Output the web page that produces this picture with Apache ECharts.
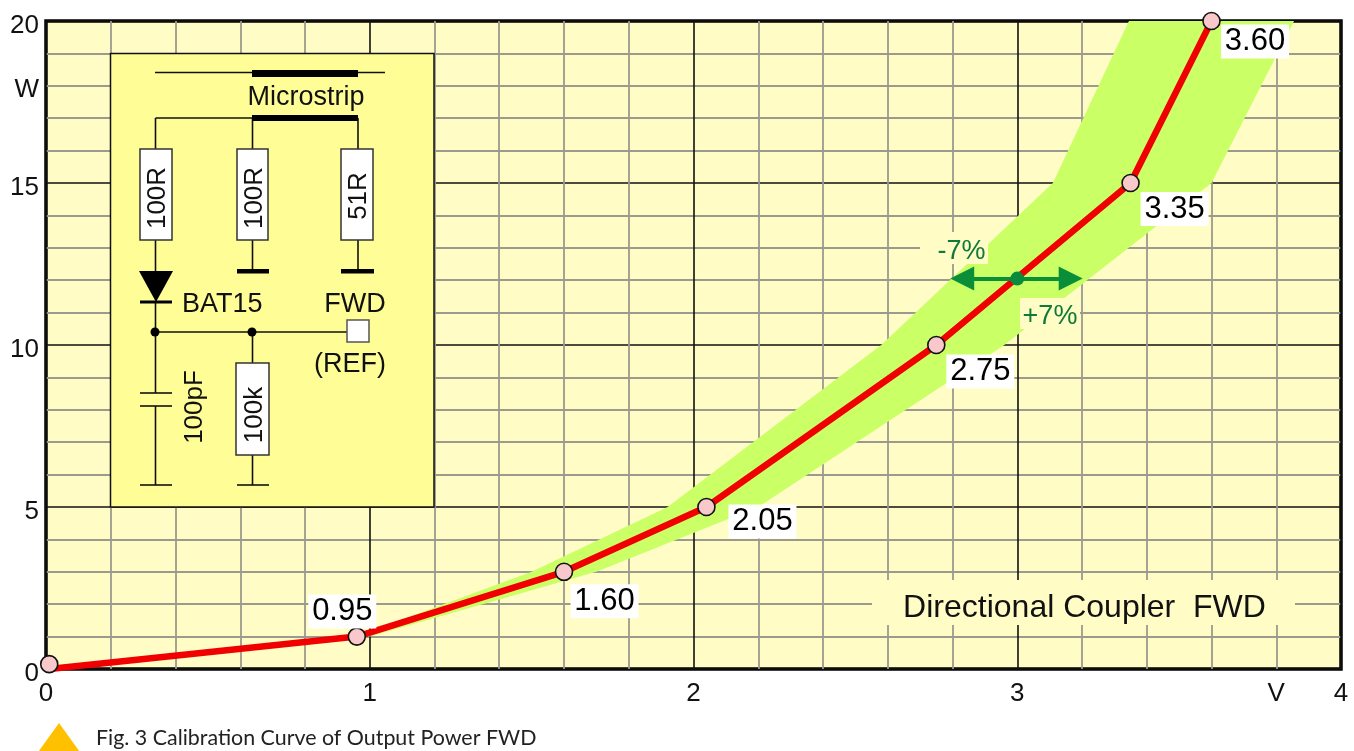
<!DOCTYPE html>
<html>
<head>
<meta charset="utf-8">
<style>html,body{margin:0;padding:0;background:#fff}#c{width:1354px;height:751px}</style>
<script src="https://cdn.jsdelivr.net/npm/echarts@6/dist/echarts.min.js"></script>
</head>
<body>
<div id="c"></div>
<script>
// ---- data ----
const curveVolts = [0.01, 0.96, 1.60, 2.04, 2.75, 3.35, 3.60];
const curveWatts = [0, 1, 3, 5, 10, 15, 20];
const curveLabels = ['', '0.95', '1.60', '2.05', '2.75', '3.35', '3.60'];
const originMarker = [0.01, 0.15];
const bandVolts = [0.97, 1.50, 1.92, 2.58, 3.11, 3.345, 3.855, 3.60, 2.96, 2.20, 1.70, 1.00];
const bandWatts = [1.05, 3, 5, 10, 15, 20, 20, 15, 10, 5, 3, 1];
const toleranceVolts = [2.83, 3, 3.165];
const toleranceWatts = 12.05;
const xTickValues = [0, 1, 2, 3, 3.8, 4];
const xTickLabels = ['0', '1', '2', '3', 'V', '4'];
const yTickValues = [0, 5, 10, 15, 18, 20];
const yTickLabels = ['0', '5', '10', '15', 'W', '20'];

// ---- styling ----
const SANS = '"Liberation Sans", Arial, sans-serif';
const labelOffsets = [[0,0],[-14.5,-25],[40.5,29.5],[56,14.5],[44,26.5],[44,26],[43.5,20.5]];
const Z = 50;
const ink = '#111';
function seg(x1,y1,x2,y2,w){return {type:'line',z:Z+1,silent:true,shape:{x1,y1,x2,y2},style:{stroke:ink,lineWidth:w||1.6}};}
function box(x,y,w,h,fill,stroke,lw,z){return {type:'rect',z:z||Z+2,silent:true,shape:{x,y,width:w,height:h},style:{fill,stroke:stroke||null,lineWidth:lw||0}};}
function txt(t,x,y,opt){opt=opt||{};return {type:'text',z:opt.z||Z+3,silent:true,x,y,rotation:opt.rot||0,
  style:{text:t,fill:opt.fill||'#111',font:(opt.size||27)+'px '+SANS,align:opt.align||'center',verticalAlign:'middle',
         }};}
const PATCH = '#FFFCC6';
const markerStyle = {color:'#F9C8CB',borderColor:'#111',borderWidth:1.6,opacity:1};
const graphics = [
  // patches in the grid
  box(872,580,423,45,PATCH,null,0,Z),
  txt('Directional Coupler  FWD',1084.5,608,{size:32}),
  box(920,232,68,32,PATCH,null,0,Z),
  txt('-7%',961.5,252,{size:27,fill:'#0E7A3A'}),
  box(1020,298,60,31,PATCH,null,0,Z),
  txt('+7%',1050,317,{size:27,fill:'#0E7A3A'}),
  // inset
  box(110.5,53.5,323.5,453.5,'#FFFD96',ink,1.5,Z),
  seg(155,72.5,385,72.5), box(252,70,106,7,'#000'),
  txt('Microstrip',306,98),
  seg(155.5,118,252,118), box(252,115,106,6,'#000'),
  seg(155.5,118,155.5,149), seg(252.5,118,252.5,149), seg(358,118,358,149),
  box(140,149,32,91,'#fff','#333',1.5), box(237,149,31,91,'#fff','#333',1.5), box(341,149,32,91,'#fff','#333',1.5),
  txt('100R',158,198,{rot:Math.PI/2,size:26}), txt('100R',254.5,198,{rot:Math.PI/2,size:26}), txt('51R',359,196,{rot:Math.PI/2,size:26}),
  seg(155.5,240,155.5,272), seg(252.5,240,252.5,270), seg(358,240,358,270),
  box(237,269,32,4.5,'#000'), box(341,269,33,4.5,'#000'),
  {type:'polygon',z:Z+2,silent:true,shape:{points:[[139,271],[173,271],[156,302]]},style:{fill:'#000'}},
  box(140,300.5,32,3,'#000'),
  txt('BAT15',182,305,{align:'left'}), txt('FWD',355,305), txt('(REF)',350,365),
  seg(155.5,302,155.5,393), seg(155,332,347,332),
  {type:'circle',z:Z+2,silent:true,shape:{cx:155,cy:332,r:4.5},style:{fill:'#000'}},
  {type:'circle',z:Z+2,silent:true,shape:{cx:252,cy:332,r:4.5},style:{fill:'#000'}},
  box(347,320,22,22,'#fff','#555',1.5),
  seg(140,393,172,393), seg(140,406,172,406), seg(155.5,406,155.5,485), seg(140,485,172,485),
  txt('100pF',195,407,{rot:Math.PI/2,size:26}),
  seg(252.5,332,252.5,363), box(236,363,33,92,'#fff','#333',1.5),
  txt('100k',255,415,{rot:Math.PI/2,size:26}),
  seg(252.5,455,252.5,485), seg(237,485,269,485),
  // caption
  {type:'polygon',z:Z,silent:true,shape:{points:[[59,723],[36,755],[82,755]]},style:{fill:'#FFC000'}},
  {type:'text',z:Z,silent:true,x:96,y:738,style:{text:'Fig. 3 Calibration Curve of Output Power FWD',fill:'#222',font:'21.4px Lato, sans-serif',align:'left',verticalAlign:'middle'}}
];

const chart = echarts.init(document.getElementById('c'), null, {renderer:'canvas'});
chart.setOption({
  animation:false,
  backgroundColor:'#fff',
  grid:{left:46,top:21,width:1295,height:648,show:true,backgroundColor:PATCH,borderColor:'#000',borderWidth:3.5},
  xAxis:{type:'value',min:0,max:4,interval:1,
    axisLine:{show:false},axisTick:{show:false},
    splitLine:{show:true,lineStyle:{color:'#111',width:1.6}},
    minorTick:{show:false,splitNumber:5},
    minorSplitLine:{show:true,lineStyle:{color:'#9b9a8e',width:1.8}},
    axisLabel:{customValues:xTickValues,margin:12,color:'#111',fontFamily:SANS,fontSize:26,
      formatter:v=>xTickLabels[xTickValues.indexOf(v)]}},
  yAxis:{type:'value',min:0,max:20,interval:5,
    axisLine:{show:false},axisTick:{show:false},
    splitLine:{show:true,lineStyle:{color:'#111',width:1.6}},
    minorTick:{show:false,splitNumber:5},
    minorSplitLine:{show:true,lineStyle:{color:'#9b9a8e',width:1.8}},
    axisLabel:{customValues:yTickValues,margin:7,
      formatter:v=>'{t|'+yTickLabels[yTickValues.indexOf(v)]+'}',
      rich:{t:{color:'#111',fontFamily:SANS,fontSize:26,padding:[9,0,0,0]}}}},
  graphic:{elements:graphics},
  series:[
    {type:'custom',name:'band',silent:true,z:2,clip:true,
     data:bandVolts.map((v,i)=>[v,bandWatts[i]]),
     renderItem:(p,api)=>{
       if(p.dataIndex!==0) return null;
       return {type:'polygon',shape:{points:bandVolts.map((v,i)=>api.coord([v,bandWatts[i]]))},style:{fill:'#CBFF66'}};
     }},
    {type:'line',name:'curve',z:4,clip:false,silent:true,
     data:curveVolts.map((v,i)=>({value:[v,curveWatts[i]],
       symbolSize:i===0?0:17,
       label:{show:!!curveLabels[i],formatter:curveLabels[i],offset:labelOffsets[i]}})),
     lineStyle:{color:'#F00000',width:6.5,cap:'round'},
     symbol:'circle',symbolSize:17,showSymbol:true,
     itemStyle:markerStyle,
     label:{show:true,position:'inside',align:'center',verticalAlign:'middle',
       color:'#000',fontFamily:SANS,fontSize:31,backgroundColor:'#fff',width:68,height:34,lineHeight:34}},
    {type:'scatter',name:'origin',z:4,clip:false,silent:true,data:[originMarker],
     symbol:'circle',symbolSize:17,itemStyle:markerStyle},
    {type:'line',name:'tolerance',z:5,clip:false,silent:true,
     data:[[toleranceVolts[1],toleranceWatts]],
     symbol:'circle',symbolSize:14,itemStyle:{color:'#0A8A3C'},lineStyle:{width:0},
     markLine:{silent:true,animation:false,symbol:['triangle','triangle'],symbolSize:24,label:{show:false},
       lineStyle:{color:'#0A8F38',width:4,type:'solid'},
       data:[[{coord:[toleranceVolts[0],toleranceWatts]},{coord:[toleranceVolts[2],toleranceWatts]}]]}}
  ]
});
</script>
</body>
</html>
